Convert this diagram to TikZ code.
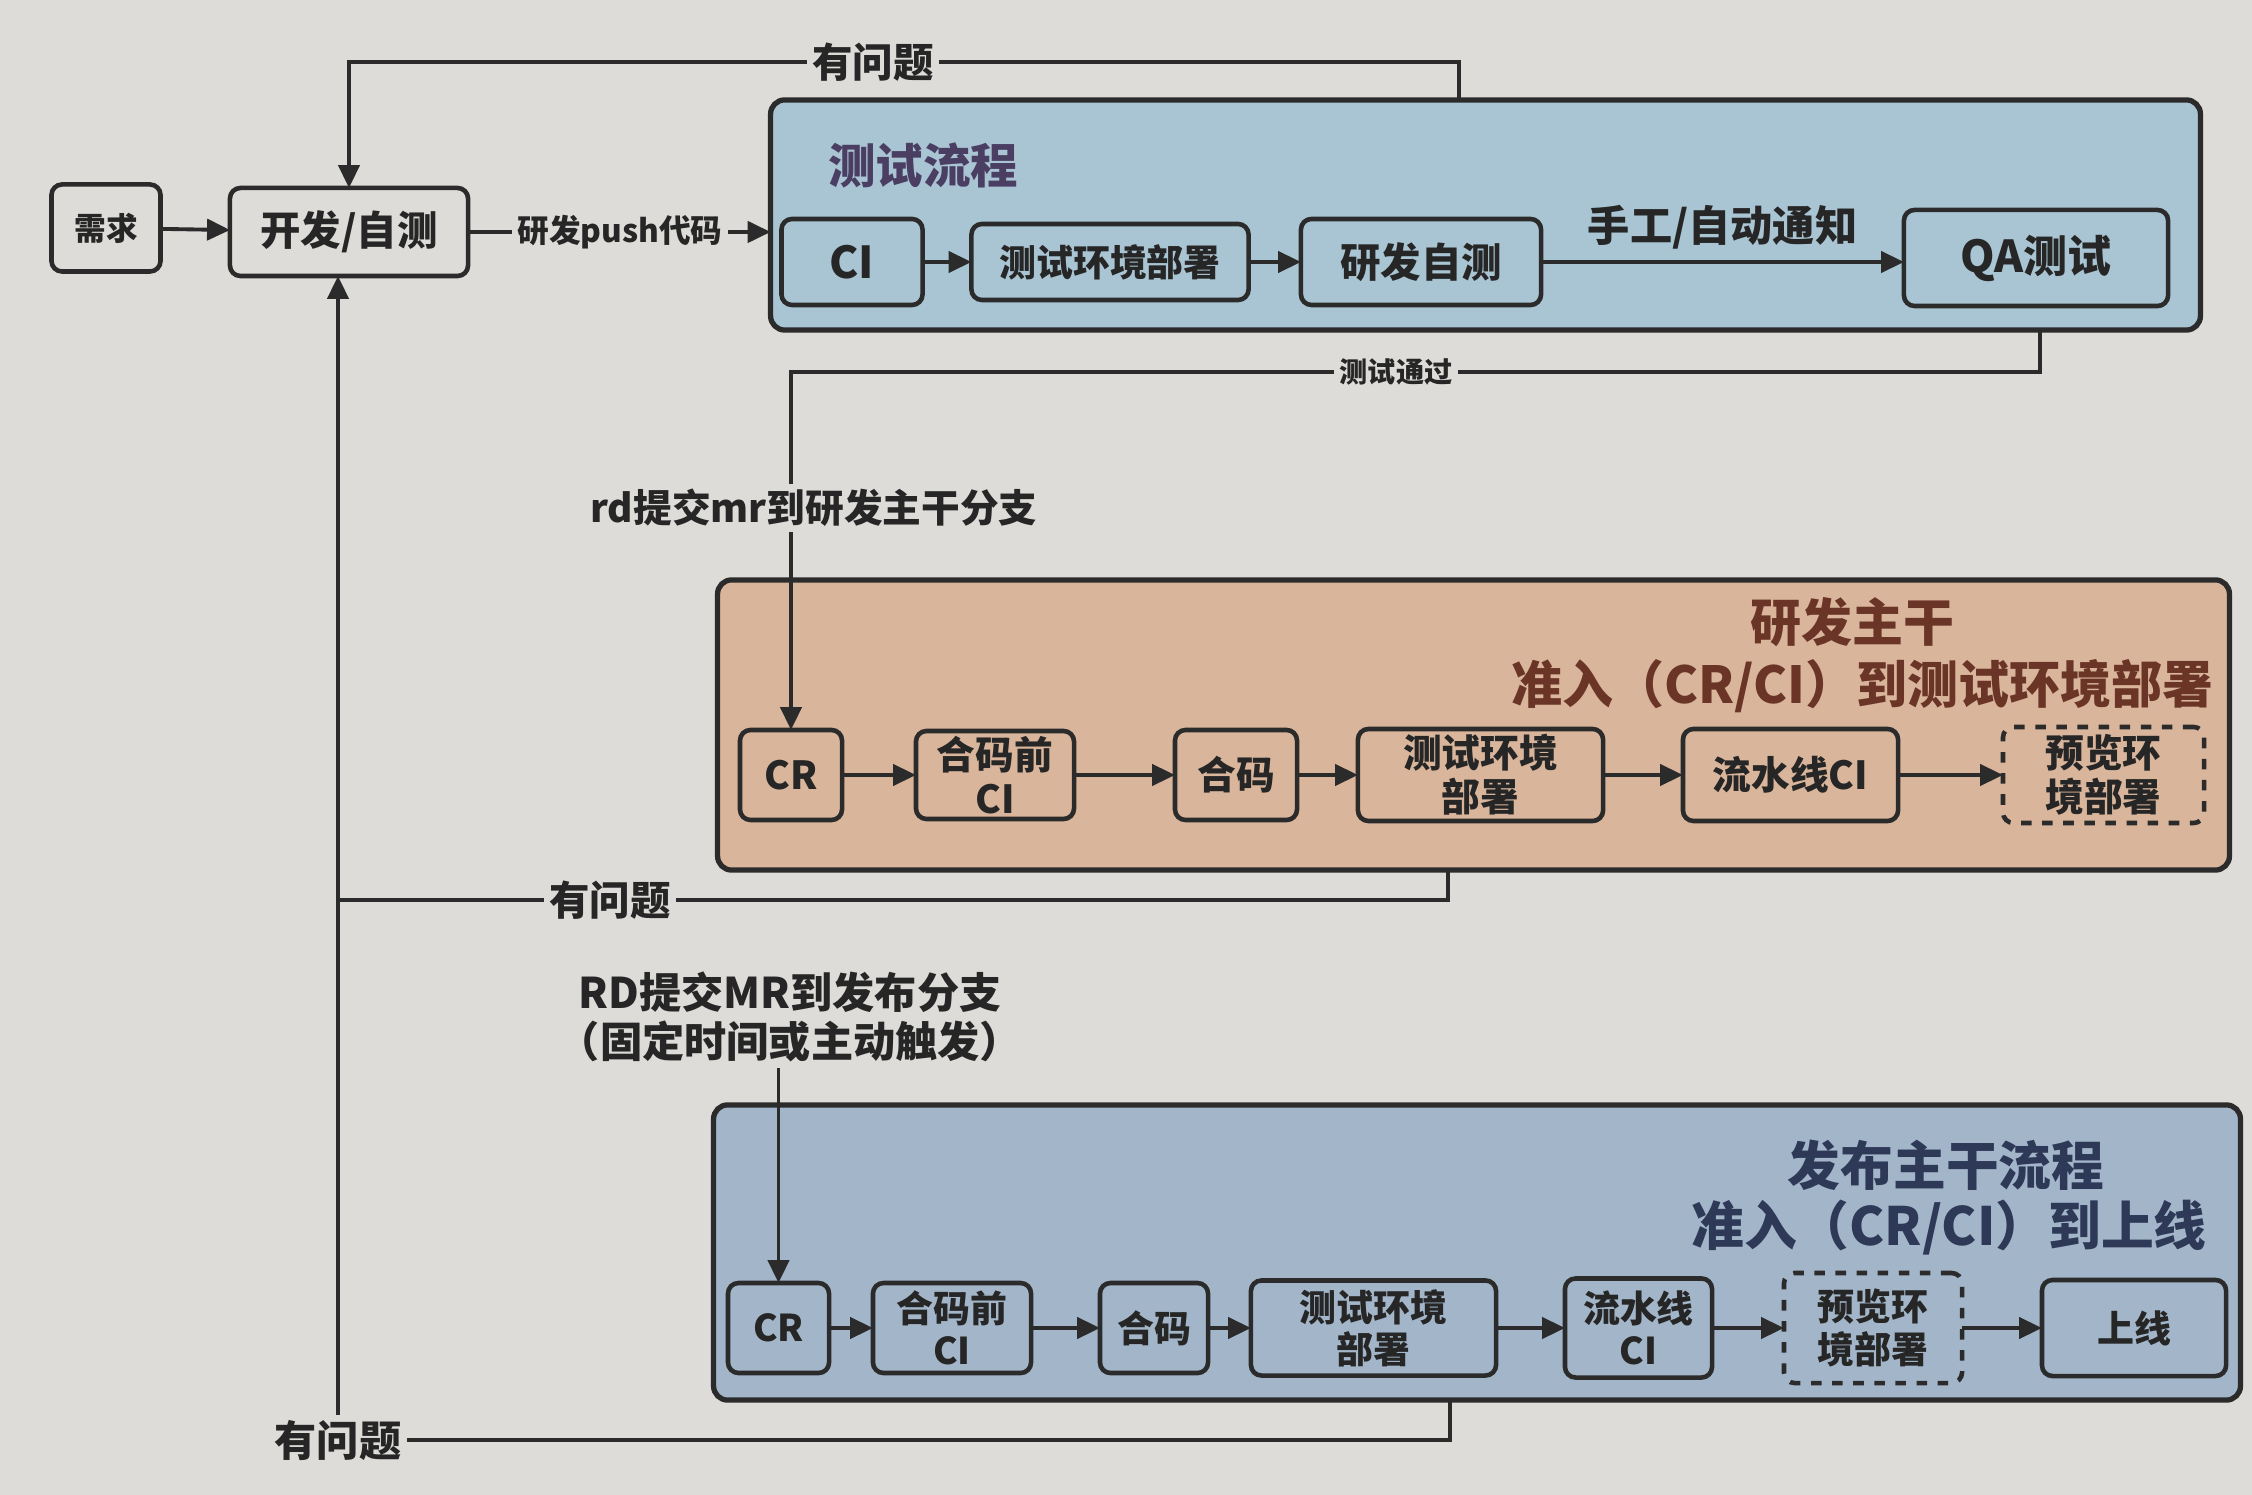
\documentclass[tikz,border=0pt]{standalone}
\usepackage{fontspec}
\setmainfont{Noto Sans CJK SC}
\usetikzlibrary{arrows.meta}
\definecolor{bg}{HTML}{DEDCD8}
\definecolor{blueT}{HTML}{A9C4D2}
\definecolor{orangeF}{HTML}{D9B59C}
\definecolor{blueB}{HTML}{A3B6C9}
\definecolor{linec}{HTML}{2B2B2B}
\definecolor{txt}{HTML}{262626}
\definecolor{tpurple}{HTML}{4A3E63}
\definecolor{tbrown}{HTML}{6A3526}
\definecolor{tnavy}{HTML}{2E3857}
\newcommand\fsz[2]{\fontsize{#1}{#2}\selectfont\bfseries}
\tikzset{
  box/.style={draw=linec, line width=1.3pt, rounded corners=3pt, inner sep=0.5pt, outer sep=0pt, align=center, text=txt},
  cont/.style={draw=linec, line width=1.5pt, rounded corners=4pt, inner sep=0pt, outer sep=0pt},
  ttl/.style={inner sep=1pt, align=center},
  conn/.style={draw=linec, line width=1.1pt},
  arr/.style={conn, -{Triangle[length=6.5pt,width=6pt]}},
  lbl/.style={fill=bg, inner sep=1.5pt, text=txt, align=center},
}
\begin{document}
\begin{tikzpicture}[x=0.01cm,y=-0.01cm]
\fill[bg] (0,0) rectangle (2252,1495);
\useasboundingbox (0,0) rectangle (2252,1495);

% containers
\node[cont, fill=blueT, minimum width=14.29cm, minimum height=2.30cm] (tbox) at (1485.5,215) {};
\node[cont, fill=orangeF, minimum width=15.11cm, minimum height=2.90cm] (obox) at (1473.5,725) {};
\node[cont, fill=blueB, minimum width=15.26cm, minimum height=2.95cm] (rbox) at (1477,1252.5) {};

% titles
\node[ttl, text=tpurple, font=\fsz{13.5}{16}] (ttitle) at (923,165) {测试流程};
\node[ttl, text=tbrown, font=\fsz{14.5}{17}] (otitleA) at (1852,622) {研发主干};
\node[ttl, text=tbrown, font=\fsz{14.5}{17}] (otitleB) at (1862,686) {准入（CR/CI）到测试环境部署};
\node[ttl, text=tnavy, font=\fsz{15}{18}] (rtitleA) at (1946,1165) {发布主干流程};
\node[ttl, text=tnavy, font=\fsz{15}{18}] (rtitleB) at (1949,1228) {准入（CR/CI）到上线};

% first row
\node[box, fill=bg, minimum width=1.09cm, minimum height=0.87cm, font=\fsz{9}{11}] (req) at (106,228) {需求};
\node[box, fill=bg, minimum width=2.38cm, minimum height=0.88cm, font=\fsz{11.5}{13}] (dev) at (349,232) {开发/自测};

\node[box, minimum width=1.41cm, minimum height=0.86cm, font=\fsz{12.5}{14}] (tci) at (852,262) {CI};
\node[box, minimum width=2.77cm, minimum height=0.76cm, font=\fsz{10.5}{12}] (tenv) at (1110,262) {测试环境部署};
\node[box, minimum width=2.40cm, minimum height=0.86cm, font=\fsz{11.5}{13}] (tself) at (1421,262) {研发自测};
\node[box, minimum width=2.64cm, minimum height=0.96cm, font=\fsz{12.5}{14}] (tqa) at (2036,258) {QA测试};

% research trunk row
\node[box, minimum width=1.02cm, minimum height=0.90cm, font=\fsz{11}{12.5}] (ocr) at (791,775) {CR};
\node[box, minimum width=1.58cm, minimum height=0.88cm, font=\fsz{11}{12.5}] (opre) at (995,775) {合码前\\CI};
\node[box, minimum width=1.22cm, minimum height=0.90cm, font=\fsz{11}{12.5}] (omerge) at (1236,775) {合码};
\node[box, minimum width=2.45cm, minimum height=0.92cm, font=\fsz{11}{12.5}] (oenv) at (1480.5,775) {测试环境\\部署};
\node[box, minimum width=2.15cm, minimum height=0.92cm, font=\fsz{11}{12.5}] (opipe) at (1790.5,775) {流水线CI};
\node[box, dashed, minimum width=2.01cm, minimum height=0.96cm, font=\fsz{11}{12.5}] (oprev) at (2103.5,775) {预览环\\境部署};

% release row
\node[box, minimum width=1.01cm, minimum height=0.90cm, font=\fsz{10.5}{12}] (rcr) at (778.5,1328) {CR};
\node[box, minimum width=1.58cm, minimum height=0.90cm, font=\fsz{10.5}{12}] (rpre) at (952,1328) {合码前\\CI};
\node[box, minimum width=1.08cm, minimum height=0.90cm, font=\fsz{10.5}{12}] (rmerge) at (1154,1328) {合码};
\node[box, minimum width=2.45cm, minimum height=0.95cm, font=\fsz{10.5}{12}] (renv) at (1373.5,1328) {测试环境\\部署};
\node[box, minimum width=1.47cm, minimum height=0.99cm, font=\fsz{10.5}{12}] (rpipe) at (1638.5,1328) {流水线\\CI};
\node[box, dashed, minimum width=1.78cm, minimum height=1.10cm, font=\fsz{10.5}{12}] (rprev) at (1873,1328) {预览环\\境部署};
\node[box, minimum width=1.84cm, minimum height=0.96cm, font=\fsz{10.5}{12}] (rlive) at (2134,1328) {上线};

% row arrows
\draw[arr] (req) -- (dev);
\draw[arr] (dev.east) -- (dev.east -| tbox.west);
\draw[arr] (tci) -- (tenv);
\draw[arr] (tenv) -- (tself);
\draw[arr] (tself.east) -- (tself.east -| tqa.west)
  node[midway, above=3pt, text=txt, inner sep=0pt, font=\fsz{12}{14}] (notify) {手工/自动通知};

\draw[arr] (ocr) -- (opre);
\draw[arr] (opre) -- (omerge);
\draw[arr] (omerge) -- (oenv);
\draw[arr] (oenv) -- (opipe);
\draw[arr] (opipe) -- (oprev);

\draw[arr] (rcr) -- (rpre);
\draw[arr] (rpre) -- (rmerge);
\draw[arr] (rmerge) -- (renv);
\draw[arr] (renv) -- (rpipe);
\draw[arr] (rpipe) -- (rprev);
\draw[arr] (rprev) -- (rlive);

% loops
\coordinate (tq) at (1459,62);
\draw[arr] (tbox.north -| tq) -- (tq) -- (tq -| dev.north) -- (dev.north);

\coordinate (tp) at (2040,372);
\draw[arr] (tbox.south -| tp) -- (tp) -- (tp -| ocr.north) -- (ocr.north);

\coordinate (vb) at (338,1440);
\coordinate (m1) at (1448,900);
\coordinate (b1) at (1450,1440);
\draw[conn] (obox.south -| m1) -- (m1) -- (m1 -| vb);
\draw[arr] (rbox.south -| b1) -- (b1) -- (vb) -- (dev.south -| vb);

\node[lbl, font=\fsz{12}{14}] (rdlbl) at (790,1017) {RD提交MR到发布分支\\（固定时间或主动触发）};
\draw[arr] (rdlbl.south -| rcr.north) -- (rcr.north);

% labels on lines
\node[lbl, font=\fsz{9}{11}] (pushlbl) at (620,232) {研发push代码};
\node[lbl, font=\fsz{11.5}{13}] (q1) at (873,62) {有问题};
\node[lbl, font=\fsz{8}{10}] (passlbl) at (1396,372) {测试通过};
\node[lbl, font=\fsz{11}{13}] (rdmr) at (814,508) {rd提交mr到研发主干分支};
\node[lbl, font=\fsz{11.5}{13}] (q2) at (610,900) {有问题};
\node[lbl, font=\fsz{12}{14}] (q3) at (338,1440) {有问题};
\end{tikzpicture}
\end{document}
